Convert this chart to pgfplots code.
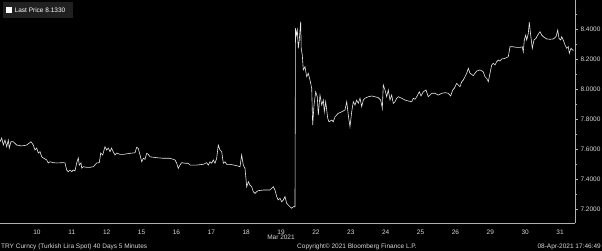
\documentclass[border=0pt]{standalone}
\usepackage{pgfplots}
\pgfplotsset{compat=1.18}
\usepackage{fontspec}
\setmainfont{Liberation Sans}
\definecolor{txt}{HTML}{D8D8D8}
\definecolor{axgray}{HTML}{B0B0B0}
\definecolor{linecol}{HTML}{E8E8E8}
\definecolor{legbg}{HTML}{202020}
\begin{document}
\begin{tikzpicture}[x=1pt,y=1pt]
\fill[black] (0,0) rectangle (602,251);
\path[use as bounding box] (0,0) rectangle (602,251);
\begin{axis}[
  at={(0pt,28pt)}, anchor=south west,
  scale only axis, width=575pt, height=223pt,
  xmin=-1.061, xmax=15.429, ymin=7.111, ymax=8.593,
  axis x line=bottom, axis y line=right,
  axis line style={-, draw=axgray, line width=0.7pt},
  xtick={0,...,15},
  xticklabels={10,11,12,15,16,17,18,19,22,23,24,25,26,29,30,31},
  major x tick style={draw=none},
  ytick={7.2,7.4,7.6,7.8,8.0,8.2,8.4},
  minor ytick={7.3,7.5,7.7,7.9,8.1,8.3,8.5},
  tick align=outside,
  major tick length=3pt, minor tick length=2pt,
  y tick style={draw=axgray, line width=0.6pt},
  /pgf/number format/assume math mode=true,
  yticklabel style={font=\fontsize{6.5}{7}\selectfont, text=txt, xshift=-1pt,
    /pgf/number format/.cd, fixed, fixed zerofill, precision=4},
  xticklabel style={font=\fontsize{6.5}{7}\selectfont, text=txt},
]
\addplot[color=linecol, line width=0.6pt, mark=none] coordinates {
(-1.061,7.651) (-1.012,7.676) (-0.966,7.629) (-0.918,7.662) (-0.869,7.618)
(-0.823,7.662) (-0.795,7.609) (-0.746,7.651) (-0.680,7.651) (-0.582,7.629)
(-0.439,7.623) (-0.295,7.629) (-0.172,7.651) (-0.106,7.629) (-0.057,7.596)
(-0.009,7.609) (0.037,7.576) (0.086,7.585) (0.135,7.551) (0.181,7.543)
(0.278,7.530) (0.324,7.510) (0.373,7.518) (0.467,7.512) (0.565,7.510)
(0.754,7.512) (0.803,7.510) (0.852,7.463) (0.898,7.452) (0.946,7.463)
(0.995,7.452) (1.041,7.463) (1.090,7.458) (1.139,7.510) (1.184,7.543)
(1.213,7.496) (1.262,7.510) (1.282,7.476) (1.328,7.485) (1.425,7.481)
(1.520,7.481) (1.615,7.485) (1.712,7.510) (1.787,7.512) (1.827,7.576)
(1.884,7.563) (1.950,7.618) (1.999,7.596) (2.045,7.609) (2.094,7.585)
(2.136,7.609) (2.185,7.585) (2.237,7.563) (2.286,7.576) (2.380,7.567)
(2.475,7.567) (2.667,7.574) (2.810,7.578) (2.859,7.614) (2.905,7.607)
(2.954,7.563) (3.003,7.518) (3.049,7.541) (3.097,7.534) (3.146,7.574)
(3.192,7.567) (3.241,7.551) (3.433,7.545) (3.622,7.541) (3.814,7.541)
(3.909,7.534) (3.958,7.530) (4.006,7.508) (4.052,7.474) (4.101,7.496)
(4.150,7.512) (4.244,7.508) (4.339,7.508) (4.388,7.496) (4.580,7.496)
(4.769,7.501) (4.867,7.512) (4.913,7.496) (4.961,7.518) (5.010,7.508)
(5.056,7.530) (5.105,7.508) (5.153,7.541) (5.199,7.629) (5.248,7.596)
(5.297,7.585) (5.343,7.508) (5.391,7.518) (5.440,7.501) (5.535,7.501)
(5.727,7.492) (5.822,7.485) (5.870,7.563) (5.916,7.496) (5.965,7.474)
(6.014,7.352) (6.060,7.385) (6.108,7.363) (6.157,7.352) (6.203,7.319)
(6.252,7.308) (6.301,7.319) (6.346,7.326) (6.490,7.330) (6.682,7.330)
(6.777,7.352) (6.825,7.330) (6.874,7.286) (6.920,7.264) (6.969,7.275)
(7.018,7.252) (7.064,7.264) (7.112,7.286) (7.161,7.242) (7.207,7.230)
(7.256,7.219) (7.304,7.209) (7.350,7.219) (7.399,7.219)
(7.413,8.405) (7.442,8.360) (7.465,8.393) (7.494,8.272) (7.522,8.327)
(7.562,8.449) (7.577,8.272) (7.608,8.227) (7.637,8.128) (7.686,8.150)
(7.734,8.083) (7.780,8.106) (7.829,8.061) (7.878,8.006) (7.906,7.762)
(7.944,7.895) (7.993,7.983) (8.038,7.950) (8.067,7.829) (8.116,7.961)
(8.165,7.895) (8.211,7.928) (8.239,7.850) (8.279,7.917) (8.337,7.807)
(8.374,7.784) (8.452,7.795) (8.497,7.784) (8.546,7.817) (8.641,7.840)
(8.738,7.850) (8.833,7.862) (8.882,7.917) (8.927,7.829) (8.976,7.751)
(9.025,7.850) (9.071,7.917) (9.120,7.895) (9.168,7.928) (9.214,7.906)
(9.263,7.940) (9.312,7.884) (9.358,7.928) (9.406,7.940) (9.501,7.950)
(9.598,7.955) (9.693,7.950) (9.788,7.944) (9.857,7.928) (9.903,7.873)
(9.931,8.028) (9.980,7.995) (10.029,7.950) (10.075,7.995) (10.123,7.928)
(10.172,7.961) (10.218,7.906) (10.267,7.917) (10.315,7.940) (10.361,7.950)
(10.459,7.940) (10.554,7.928) (10.648,7.922) (10.746,7.917) (10.792,7.940)
(10.840,7.933) (10.889,7.950) (10.964,7.983) (11.012,7.955) (11.078,7.983)
(11.156,7.995) (11.222,7.950) (11.270,7.961) (11.319,7.973) (11.414,7.973)
(11.508,7.961) (11.606,7.973) (11.701,7.977) (11.795,7.973) (11.864,7.955)
(11.922,7.995) (11.967,8.006) (12.036,8.039) (12.082,8.028) (12.131,8.017)
(12.180,8.050) (12.225,8.061) (12.274,8.083) (12.323,8.106) (12.369,8.139)
(12.417,8.106) (12.466,8.099) (12.512,8.090) (12.561,8.106) (12.610,8.121)
(12.704,8.128) (12.799,8.116) (12.848,8.083) (12.897,8.072) (12.943,8.050)
(12.991,8.106) (13.040,8.161) (13.086,8.172) (13.135,8.161) (13.183,8.183)
(13.229,8.194) (13.278,8.187) (13.327,8.201) (13.421,8.205) (13.516,8.216)
(13.565,8.282) (13.659,8.282) (13.757,8.278) (13.851,8.278) (13.917,8.282)
(13.946,8.249) (13.975,8.327) (14.015,8.360) (14.044,8.327) (14.090,8.371)
(14.118,8.445) (14.158,8.360) (14.204,8.272) (14.253,8.327) (14.310,8.338)
(14.359,8.360) (14.425,8.382) (14.474,8.360) (14.520,8.349) (14.617,8.334)
(14.712,8.332) (14.807,8.334) (14.884,8.349) (14.933,8.393) (14.970,8.338)
(15.019,8.327) (15.047,8.349) (15.093,8.327) (15.142,8.294) (15.191,8.272)
(15.236,8.283) (15.265,8.239) (15.314,8.272) (15.362,8.260) (15.400,8.260)
};
\end{axis}
% legend box
\fill[legbg] (3,233) rectangle (73,249);
\fill[white] (6,238) rectangle (12,244);
\node[anchor=west, inner sep=0pt, text=white, font=\fontsize{6.5}{7}\selectfont] at (14.5,241) {Last Price 8.1330};
% footer texts
\node[anchor=center, inner sep=0pt, text=txt, font=\fontsize{6.5}{7}\selectfont] at (281,14) {Mar 2021};
\node[anchor=west, inner sep=0pt, text=txt, font=\fontsize{6.5}{7}\selectfont] at (1,4) {TRY Curncy (Turkish Lira Spot) 40 Days 5 Minutes};
\node[anchor=center, inner sep=0pt, text=txt, font=\fontsize{6.5}{7}\selectfont] at (357,4) {Copyright© 2021 Bloomberg Finance L.P.};
\node[anchor=east, inner sep=0pt, text=txt, font=\fontsize{6.5}{7}\selectfont] at (601,4) {08-Apr-2021 17:46:49};
\end{tikzpicture}
\end{document}
